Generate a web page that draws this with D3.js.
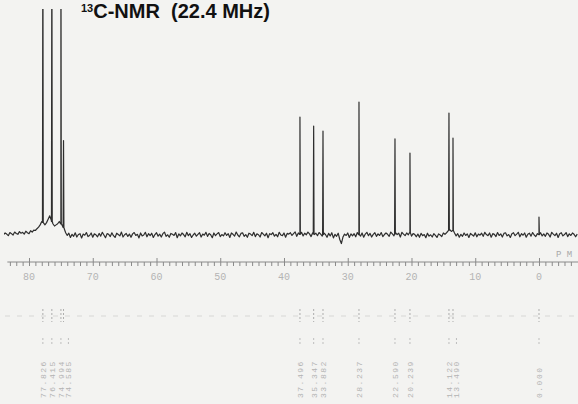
<!DOCTYPE html>
<html>
<head>
<meta charset="utf-8">
<script src="https://cdn.jsdelivr.net/npm/d3@7/dist/d3.min.js"></script>
<style>
  html, body { margin: 0; padding: 0; background: #f3f3f1; }
  svg { display: block; }
</style>
</head>
<body>
<svg id="chart" width="578" height="404"></svg>
<script>
// 13C NMR spectrum, 22.4 MHz, CDCl3 with TMS reference

// Resolved signals (chemical shift, ppm) and their relative intensities
const peakPpm = [77.826, 76.415, 74.994, 74.585, 37.496, 35.347, 33.882, 28.237, 22.590, 20.239, 14.122, 13.490, 0.000];
const peakHeight = [140, 140, 140, 42, 52.4, 48.4, 46.2, 59.1, 42.7, 36.4, 54.2, 43.1, 8];

// Baseline trace sampled every 0.25 ppm from 84.0 down to -6.0 ppm
const baseStart = 84.0;
const baseStep = 0.25;
const baseline = [
  0.2, 0.9, 0.4, -0.3, 1.1, 0.6, 0.0, 1.3, 0.7, 0.3, 1.5, 0.8, 1.2, 0.4, 1.7, 1.0, 0.6, 1.9, 1.3, 2.2,
  2.0, 2.8, 3.5, 4.5, 6.0, 5.5, 4.5, 5.5, 7.0, 8.5, 6.5, 5.0, 4.0, 4.5, 5.0, 6.0, 5.0, 4.0, 3.0, 1.0,
  -0.2, 0.8, -1.1, 0.3, -0.6, 1.0, -0.9, 0.2, 0.6, -1.3, 0.4, -0.1, 1.1, -0.7, -0.2, 0.9, -1.0, 0.5, 0.1, -0.8,
  0.7, -0.5, 1.2, 0.0, -1.2, 0.6, 0.3, -0.7, 1.0, -0.3, -1.1, 0.8, 0.2, -0.4, 1.3, -0.9, 0.1, 0.7, -0.6, 0.4,
  -1.0, 0.5, 1.1, -0.2, 0.3, -1.3, 0.9, -0.4, 0.0, 1.2, -0.8, 0.6, -0.3, 0.8, -1.1, 0.2, 1.0, -0.5, 0.4, -0.9,
  0.6, 1.3, -0.6, 0.1, -1.0, 0.7, 0.3, -0.2, 1.1, -1.2, 0.5, -0.4, 0.9, 0.2, -0.8, 1.2, -0.3, 0.6, -1.1, 0.0,
  0.8, -0.5, 0.3, 1.0, -0.9, 0.4, -0.1, 1.2, -0.6, 0.7, 0.1, -1.2, 0.9, -0.3, 0.5, 1.1, -0.7, 0.2, -0.4, 1.0,
  -0.2, 0.6, -1.1, 0.9, 0.3, -0.5, 1.3, 0.0, -0.8, 0.7, 1.0, -0.6, 0.2, -1.0, 0.8, 0.4, -0.3, 1.2, -0.7, 0.5,
  0.1, -0.9, 1.1, 0.4, -0.4, 0.8, -1.2, 0.6, 0.2, 1.0, -0.5, 0.3, -0.8, 1.2, 0.0, -0.3, 0.9, -1.0, 0.7, 0.4,
  1.0, -0.2, 0.6, 1.4, -0.6, 0.9, 0.3, 1.2, -0.4, 0.8, 0.1, 1.3, 0.5, -0.7, 1.0, 0.2, 0.8, -0.3, 1.1, 0.4,
  -0.5, 0.9, 0.2, -1.0, 0.7, -0.4, 1.0, -1.3, 0.3, -0.6, 0.8, -2.0, -3.8, -0.9, 0.4, -0.2, 0.9, -1.1, 0.5, -0.4,
  0.6, -0.8, 1.1, 0.2, -0.5, 0.9, -1.0, 0.4, 1.2, -0.3, 0.7, -0.9, 0.3, 1.0, -0.6, 0.5, -0.2, 1.1, -0.7, 0.2,
  0.9, 0.3, -0.6, 1.3, 0.5, -0.4, 1.0, 0.2, 0.8, -0.9, 1.2, 0.4, -0.3, 0.9, 0.1, 1.1, -0.5, 0.6, 0.3, -0.8,
  0.4, -1.0, 0.7, -0.3, 0.2, -1.2, 0.8, -0.5, 0.1, -0.9, 0.6, -0.2, -1.1, 0.5, 0.0, -0.7, 0.9, 0.3, 1.0, 1.8,
  2.4, 1.6, 2.0, 0.9, -0.4, 0.6, -1.0, 0.3, -0.6, 0.9, -0.2, 0.5, -1.1, 0.7, 0.1, -0.5, 1.0, -0.8, 0.4, -0.1,
  0.8, -0.6, 1.2, 0.2, -0.3, 0.9, -1.0, 0.6, 0.3, -0.7, 1.1, -0.2, 0.5, -0.9, 0.7, 1.0, -0.4, 0.2, -1.1, 0.6,
  1.0, -0.3, 0.4, 1.2, -0.8, 0.6, -0.1, 0.9, -1.0, 0.3, 0.8, -0.5, 1.1, 0.0, -0.7, 0.6, 0.2, 1.0, -0.4, 0.5,
  -0.6, 0.9, 0.3, -0.9, 1.2, 0.4, -0.3, 0.8, -1.1, 0.6, 1.0, -0.4, 0.2, 1.1, -0.7, 0.5, -0.2, 0.9, 0.3, -0.8,
  0.4
];

// Axis tick labels (ppm)
const majorTicks = [80, 70, 60, 50, 40, 30, 20, 10, 0];
const minorTicks = d3.range(-5, 84, 1);

const titleMain = "C-NMR  (22.4 MHz)";
const titleIso = "13";
const unitLabel = "P M";

const W = 578, H = 404;
const svg = d3.select("#chart");

const x = d3.scaleLinear().domain([84.55, -6.12]).range([0, W]);
const y = d3.scaleLinear().domain([0, 100]).range([235, 10]);

svg.append("defs").append("clipPath").attr("id", "plotClip")
  .append("rect").attr("x", 4).attr("y", 9).attr("width", W - 4).attr("height", 240);

// Build the trace: baseline samples merged with narrow spikes for each signal
const pts = baseline.map((v, i) => ({ ppm: baseStart - i * baseStep, v }));
function baseAt(p) {
  const t = (baseStart - p) / baseStep;
  const i = Math.max(0, Math.min(baseline.length - 2, Math.floor(t)));
  const f = t - i;
  return baseline[i] * (1 - f) + baseline[i + 1] * f;
}
peakPpm.forEach((p, k) => {
  const b = baseAt(p);
  pts.push({ ppm: p + 0.06, v: b });
  pts.push({ ppm: p, v: peakHeight[k] });
  pts.push({ ppm: p - 0.06, v: b });
});
pts.sort((a, b) => b.ppm - a.ppm);

const line = d3.line().x(d => x(d.ppm)).y(d => y(d.v));

svg.append("g").attr("clip-path", "url(#plotClip)")
  .append("path")
  .datum(pts)
  .attr("d", line)
  .attr("fill", "none")
  .attr("stroke", "#2e2e2e")
  .attr("stroke-width", 1.2)
  .attr("stroke-linejoin", "round");

// ppm axis
const axisY = 262;
const gAxis = svg.append("g").attr("transform", `translate(0,${axisY})`);
gAxis.call(d3.axisBottom(x).tickValues(minorTicks).tickSize(4).tickFormat(""));
gAxis.call(g => g.select(".domain").attr("d", `M${x(83.4)},0H${W}`));
gAxis.selectAll("line").attr("stroke", "#8a8a8a");
gAxis.select(".domain").attr("stroke", "#8a8a8a");

const gMajor = svg.append("g").attr("transform", `translate(0,${axisY})`);
gMajor.call(d3.axisTop(x).tickValues(majorTicks).tickSize(4).tickFormat(""));
gMajor.select(".domain").remove();
gMajor.selectAll("line").attr("stroke", "#8a8a8a");

svg.append("g").selectAll("text").data(majorTicks).join("text")
  .attr("x", d => x(d))
  .attr("y", 280)
  .attr("text-anchor", "middle")
  .attr("font-family", "Liberation Mono, monospace")
  .attr("font-size", 10)
  .attr("fill", "#b4b4b4")
  .text(d => d);

svg.append("text")
  .attr("x", 556).attr("y", 257)
  .attr("font-family", "Liberation Mono, monospace")
  .attr("font-size", 9)
  .attr("fill", "#a8a8a8")
  .attr("xml:space", "preserve")
  .text(unitLabel);

// Peak list: markers and rotated shift values
svg.append("line")
  .attr("x1", 5).attr("x2", W).attr("y1", 316).attr("y2", 316)
  .attr("stroke", "#cfcfcf").attr("stroke-width", 0.8)
  .attr("stroke-dasharray", "5,7");

const fmt = d3.format(".3f");
const order = peakPpm.map((p, i) => ({ p, i, px: x(p) })).sort((a, b) => a.px - b.px);
for (let k = 1; k < order.length; k++) {
  if (order[k].px - order[k - 1].px < 7.5) order[k].px = order[k - 1].px + 7.5;
}

const gLab = svg.append("g");
order.forEach(o => {
  const g = gLab.append("g");
  g.append("line").attr("x1", x(o.p)).attr("x2", x(o.p)).attr("y1", 309).attr("y2", 322)
    .attr("stroke", "#9a9a9a").attr("stroke-width", 0.8).attr("stroke-dasharray", "2,2");
  g.append("line").attr("x1", o.px).attr("x2", o.px).attr("y1", 338).attr("y2", 346)
    .attr("stroke", "#b0b0b0").attr("stroke-width", 0.8).attr("stroke-dasharray", "2,2");
  g.append("text")
    .attr("transform", `translate(${o.px + 3},398) rotate(-90)`)
    .attr("font-family", "Liberation Mono, monospace")
    .attr("font-size", 8)
    .attr("letter-spacing", 1.5)
    .attr("fill", "#b2b2b2")
    .text(fmt(o.p));
});

// Title
const title = svg.append("text")
  .attr("x", 81).attr("y", 18)
  .attr("font-family", "Liberation Sans, Arial, sans-serif")
  .attr("font-weight", "bold")
  .attr("fill", "#111")
  .attr("xml:space", "preserve");
title.append("tspan").attr("font-size", 11).attr("dy", -6).text(titleIso);
title.append("tspan").attr("font-size", 20).attr("dy", 6).text(titleMain);
</script>
</body>
</html>
